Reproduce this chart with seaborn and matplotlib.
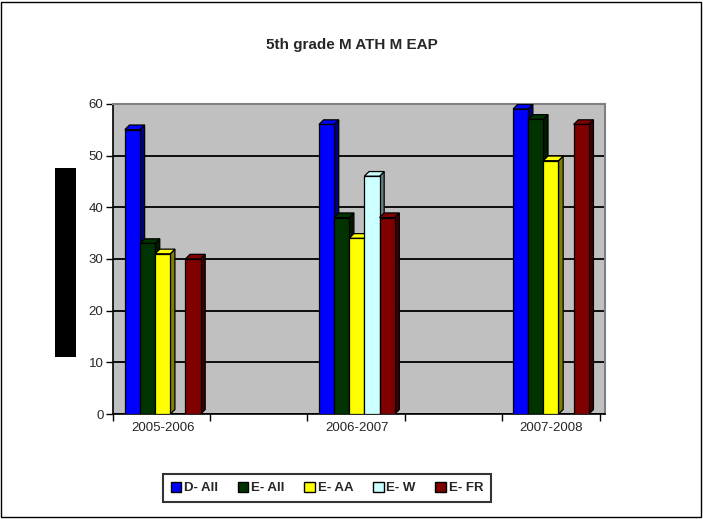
import pandas as pd
import numpy as np
import matplotlib
matplotlib.use('Agg')
import matplotlib.pyplot as plt
from matplotlib.patches import Polygon, Rectangle, Patch
from matplotlib.colors import to_rgb
import seaborn as sns

# ── Data ──────────────────────────────────────────────────────
years = ['2005-2006', '2006-2007', '2007-2008']
groups = ['D- All', 'E- All', 'E- AA', 'E- W', 'E- FR']
d_all = [55, 56, 59]
e_all = [33, 38, 57]
e_aa = [31, 34, 49]
e_w = [0, 46, 0]
e_fr = [30, 38, 56]
colors = ['#0000FF', '#003300', '#FFFF00', '#CCFFFF', '#800000']

df = pd.DataFrame({
    'year': np.repeat(years, len(groups)),
    'group': groups * len(years),
    'score': [v for row in zip(d_all, e_all, e_aa, e_w, e_fr) for v in row],
})

# ── Plot ──────────────────────────────────────────────────────
sns.set_style('white')
plt.rcParams['font.family'] = ['Liberation Sans', 'DejaVu Sans']

fig = plt.figure(figsize=(7.03, 5.19), dpi=100)
ax = fig.add_axes([0.161, 0.202, 0.700, 0.598])

sns.barplot(data=df, x='year', y='score', hue='group', hue_order=groups,
            palette=colors, width=0.39, edgecolor='black', linewidth=0.9,
            saturation=1, legend=False, ax=ax)

# fake 3D depth on each bar
dx, dy = 0.024, 0.9
n_years = len(years)
for i, p in enumerate(ax.patches[:len(groups) * n_years]):
    h = p.get_height()
    if h <= 0:
        continue
    s = i // n_years
    x0 = p.get_x()
    x1 = x0 + p.get_width()
    c = np.array(to_rgb(colors[s]))
    z = 3 + s * 0.1
    p.set_zorder(z + 0.05)
    side = Polygon([(x1, 0), (x1 + dx, dy), (x1 + dx, h + dy), (x1, h)],
                   closed=True, facecolor=c * 0.5, edgecolor='black', lw=0.9, zorder=z)
    top = Polygon([(x0, h), (x0 + dx, h + dy), (x1 + dx, h + dy), (x1, h)],
                  closed=True, facecolor=c, edgecolor='black', lw=0.9, zorder=z)
    ax.add_patch(side)
    ax.add_patch(top)

ax.set_facecolor('#C0C0C0')
ax.set_ylim(0, 60)
ax.set_yticks(range(0, 61, 10))
ax.set_xlim(-0.255, 2.28)
ax.yaxis.grid(True, color='black', linewidth=1.3)
ax.set_axisbelow(True)
ax.set_xlabel('')
ax.set_ylabel('')

ax.set_xticks([-0.255, 0.245, 0.745, 1.25, 1.75, 2.255], minor=True)
ax.tick_params(axis='x', which='major', bottom=True, length=0, labelsize=9.5, pad=6)
ax.tick_params(axis='x', which='minor', bottom=True, length=5, width=1,
               color='black', direction='out')
ax.tick_params(axis='y', left=True, length=5, width=1, color='black',
               direction='out', labelsize=9.5, pad=2)

for side in ['left', 'bottom']:
    ax.spines[side].set_color('black')
    ax.spines[side].set_linewidth(1.2)
for side in ['top', 'right']:
    ax.spines[side].set_color('#808080')
    ax.spines[side].set_linewidth(1.5)

fig.text(0.501, 0.913, '5th grade M ATH M EAP', ha='center', va='center',
         fontsize=11, fontweight='bold')

# legend
handles = [Patch(facecolor=c, edgecolor='black', linewidth=1) for c in colors]
leg = fig.legend(handles, groups, loc='center', bbox_to_anchor=(0.465, 0.06),
                 ncol=5, frameon=True, fancybox=False, handlelength=0.8,
                 handleheight=0.8, handletextpad=0.2, columnspacing=1.5,
                 prop={'weight': 'bold', 'size': 9.5}, borderpad=0.6)
leg.get_frame().set_edgecolor('black')
leg.get_frame().set_linewidth(1.5)

# black block left of the axis and outer frame
fig.add_artist(Rectangle((55 / 703, 1 - 357 / 519), 21 / 703, 189 / 519,
                         transform=fig.transFigure, facecolor='black', edgecolor='none'))
fig.add_artist(Rectangle((0.002, 0.003), 0.995, 0.994, transform=fig.transFigure,
                         facecolor='none', edgecolor='black', linewidth=1))

plt.savefig('out.png', dpi=100)
plt.close()
